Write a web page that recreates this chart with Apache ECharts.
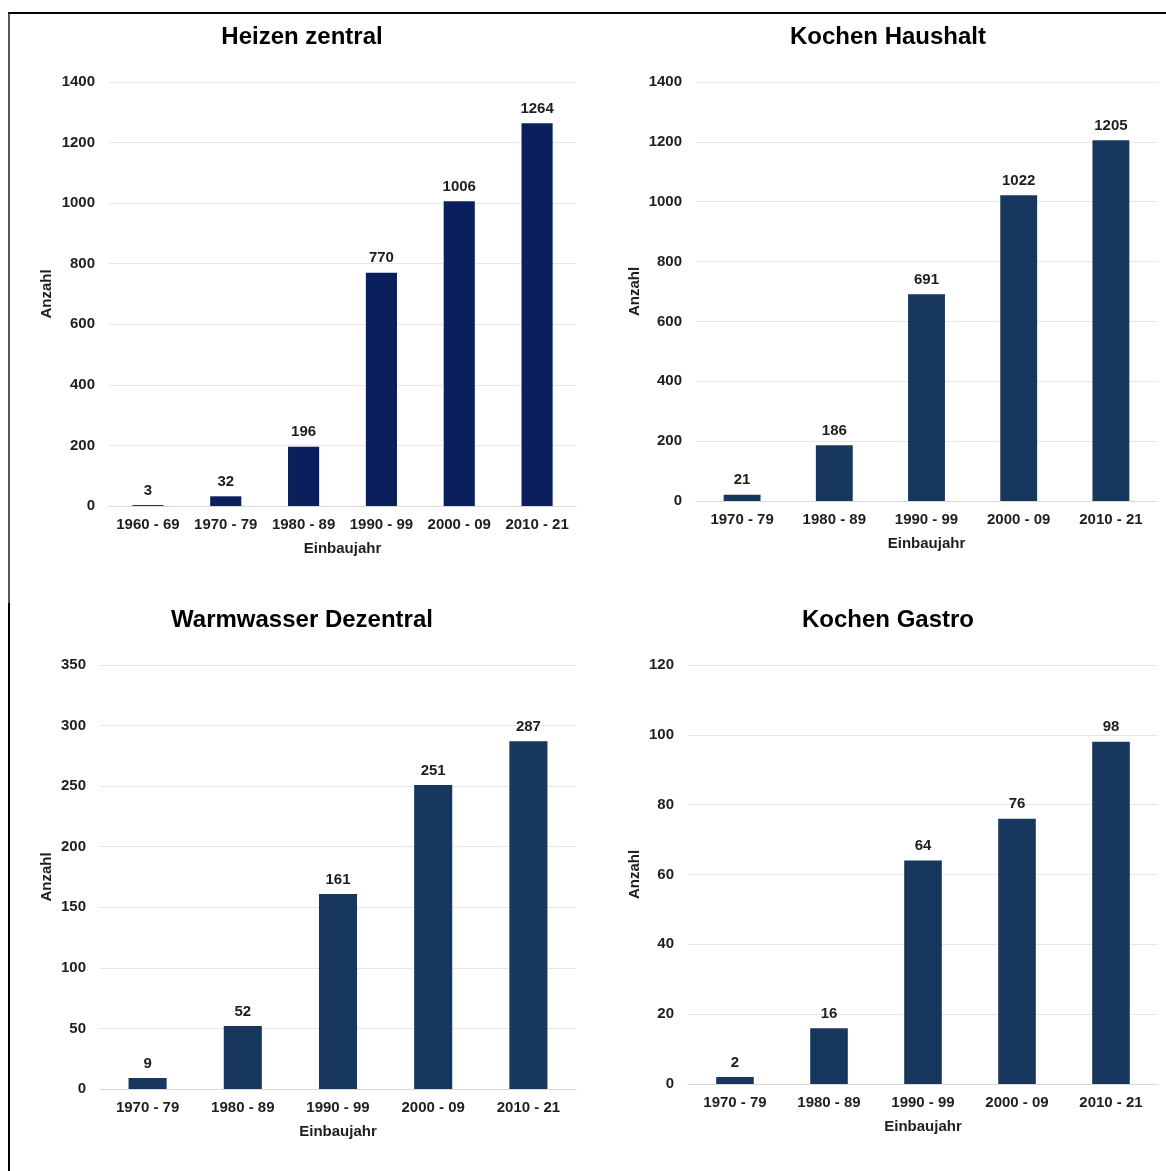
<!DOCTYPE html>
<html>
<head>
<meta charset="utf-8">
<script src="https://cdn.jsdelivr.net/npm/echarts@6/dist/echarts.min.js"></script>
<style>
  html, body { margin: 0; padding: 0; background: #fff; }
  #chart { width: 1166px; height: 1171px; }
</style>
</head>
<body>
<div id="chart"></div>
<script>
// Installationen nach Einbaujahr, vier Anwendungsbereiche
const titles = ['Heizen zentral', 'Kochen Haushalt', 'Warmwasser Dezentral', 'Kochen Gastro'];

const catHeizen = ['1960 - 69', '1970 - 79', '1980 - 89', '1990 - 99', '2000 - 09', '2010 - 21'];
const catKurz = ['1970 - 79', '1980 - 89', '1990 - 99', '2000 - 09', '2010 - 21'];

const heizenZentral = [3, 32, 196, 770, 1006, 1264];
const kochenHaushalt = [21, 186, 691, 1022, 1205];
const warmwasserDezentral = [9, 52, 161, 251, 287];
const kochenGastro = [2, 16, 64, 76, 98];

const yMax = [1400, 1400, 350, 120];
const yStep = [200, 200, 50, 20];

const axisName = 'Anzahl';
const xName = 'Einbaujahr';

const FONT = '"Liberation Sans", Arial, sans-serif';
const TXT = '#1e1e1e';

const grids = [
  { left: 109, right: 590, top: 82, bottom: 665 },
  { left: 696, right: 9, top: 82, bottom: 670 },
  { left: 100, right: 590, top: 665, bottom: 82 },
  { left: 688, right: 8, top: 665, bottom: 87 }
];
const yNameGap = [55, 54, 46, 46];
const barColors = ['#0b1f5c', '#17375e', '#17375e', '#17375e'];
const categories = [catHeizen, catKurz, catKurz, catKurz];
const seriesData = [heizenZentral, kochenHaushalt, warmwasserDezentral, kochenGastro];

const titlePos = [[302, 37], [888, 37], [302, 620], [888, 620]];

const chart = echarts.init(document.getElementById('chart'), null, { renderer: 'canvas' });

const option = {
  backgroundColor: '#ffffff',
  animation: false,
  grid: grids,
  xAxis: categories.map((cats, i) => ({
    type: 'category',
    gridIndex: i,
    data: cats,
    name: xName,
    nameLocation: 'middle',
    nameGap: 35,
    nameTextStyle: { fontFamily: FONT, fontWeight: 'bold', fontSize: 15, color: TXT },
    axisLine: { show: true, lineStyle: { color: '#d9d9d9', width: 1 } },
    axisTick: { show: false },
    axisLabel: { margin: 11, fontFamily: FONT, fontWeight: 'bold', fontSize: 15, color: TXT, interval: 0 }
  })),
  yAxis: yMax.map((m, i) => ({
    type: 'value',
    gridIndex: i,
    min: 0,
    max: m,
    interval: yStep[i],
    name: axisName,
    nameLocation: 'middle',
    nameGap: yNameGap[i],
    nameRotate: 90,
    nameTextStyle: { fontFamily: FONT, fontWeight: 'bold', fontSize: 15, color: TXT },
    axisLine: { show: false },
    axisTick: { show: false },
    splitLine: { lineStyle: { color: '#e6e6e6', width: 1 } },
    axisLabel: {
      margin: 14, fontFamily: FONT, fontWeight: 'bold', fontSize: 15, color: TXT,
      formatter: v => String(v)
    }
  })),
  series: seriesData.map((d, i) => ({
    type: 'bar',
    xAxisIndex: i,
    yAxisIndex: i,
    data: d,
    barWidth: '40%',
    itemStyle: { color: barColors[i] },
    label: {
      show: true,
      position: 'top',
      distance: 7,
      fontFamily: FONT,
      fontWeight: 'bold',
      fontSize: 15,
      color: TXT
    }
  })),
  graphic: [
    // Rahmen oben und links
    { type: 'line', shape: { x1: 8, y1: 13, x2: 1166, y2: 13 }, style: { stroke: '#000', lineWidth: 2 } },
    { type: 'line', shape: { x1: 9, y1: 12, x2: 9, y2: 603 }, style: { stroke: '#222', lineWidth: 1.5 } },
    { type: 'line', shape: { x1: 9, y1: 603, x2: 9, y2: 1171 }, style: { stroke: '#000', lineWidth: 2 } }
  ].concat(titles.map((t, i) => ({
    type: 'text',
    x: titlePos[i][0],
    y: titlePos[i][1],
    style: {
      text: t,
      fontFamily: FONT,
      fontWeight: 'bold',
      fontSize: 24,
      fill: '#000',
      align: 'center',
      verticalAlign: 'middle'
    }
  })))
};

chart.setOption(option);
</script>
</body>
</html>
